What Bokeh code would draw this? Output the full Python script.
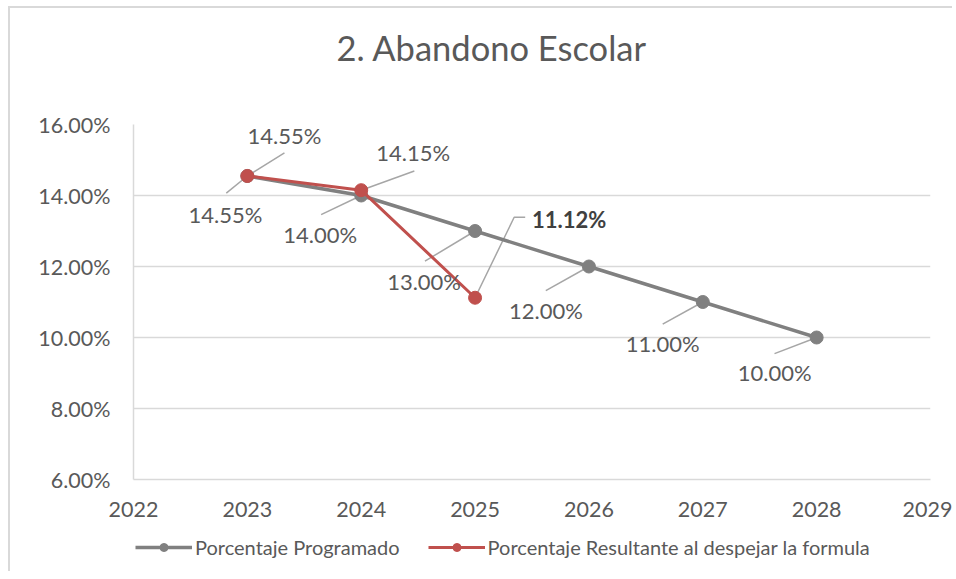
from bokeh.plotting import figure
from bokeh.layouts import column
from bokeh.models import (ColumnDataSource, FixedTicker, PrintfTickFormatter,
                          Legend, LegendItem, Title)
from bokeh.core.properties import value
from bokeh.embed import file_html
from bokeh.resources import INLINE

# ---------------- data ----------------
title_text = "2. Abandono Escolar"
years_prog = [2023, 2024, 2025, 2026, 2027, 2028]
pct_prog = [14.55, 14.00, 13.00, 12.00, 11.00, 10.00]
years_res = [2023, 2024, 2025]
pct_res = [14.55, 14.15, 11.12]
name_prog = "Porcentaje Programado"
name_res = "Porcentaje Resultante al despejar la formula"
x_ticks = [2022, 2023, 2024, 2025, 2026, 2027, 2028, 2029]
y_ticks = [6, 8, 10, 12, 14, 16]

# ---------------- style ----------------
FONT = "Lato"
TXT = "#595959"
GRAY = "#808080"
RED = "#c0504d"
GRID = "#d9d9d9"
LEAD = "#a6a6a6"
FW, FH = 795, 353
X0, X1, Y0, Y1 = 2022, 2029, 6, 16
PX_X = FW / (X1 - X0)   # px per year
PX_Y = FH / (Y1 - Y0)   # px per percent point

# label offsets in screen pixels (dx right, dy down) from each point
prog_lab_off = [(-22, 39), (-41, 39), (-51, 50), (-43, 44), (-40, 41), (-42, 35)]
prog_lead_off = [[(-21, 17)], [(-40, 19)], [(-50, 30)], [(-43, 24)], [(-40, 22)], [(-42, 16)]]
res_lab_off = [(37, -40), (52, -38), (94, -78)]
res_lead_off = [[(37, -23)], [(53, -19)], [(39, -80), (50, -80)]]

p = figure(frame_width=FW, frame_height=FH, x_range=(X0, X1), y_range=(Y0, Y1),
           output_backend="svg", toolbar_location=None,
           min_border_left=123, min_border_top=116, min_border_right=24,
           min_border_bottom=50)
p.styles = {"border-top": "2px solid #d9d9d9", "border-left": "2px solid #d9d9d9",
            "margin-left": "8px", "margin-top": "6px"}
p.outline_line_color = None
p.background_fill_color = "white"
p.border_fill_color = "white"

# spacer between the title and the plot frame
p.add_layout(Title(text=" ", text_font_size="1px", standoff=54), "above")

p.title.text = title_text
p.title.align = "left"
p.title.offset = 203
p.title.standoff = 0
p.title.vertical_align = "bottom"
p.title.text_font = FONT
p.title.text_font_size = "34.5px"
p.title.text_font_style = "normal"
p.title.text_color = TXT

p.xaxis.ticker = FixedTicker(ticks=x_ticks)
p.yaxis.ticker = FixedTicker(ticks=y_ticks)
p.yaxis.formatter = PrintfTickFormatter(format="%.2f%%")
for ax in (p.xaxis, p.yaxis):
    ax.major_tick_line_color = None
    ax.minor_tick_line_color = None
    ax.major_tick_out = 0
    ax.minor_tick_out = 0
    ax.axis_line_color = GRID
    ax.axis_line_width = 1.5
    ax.major_label_text_font = FONT
    ax.major_label_text_font_size = "21.5px"
    ax.major_label_text_color = TXT
p.yaxis.major_label_standoff = 23
p.xaxis.major_label_standoff = 22
p.xgrid.grid_line_color = None
p.ygrid.grid_line_color = GRID
p.ygrid.grid_line_width = 1.5


def leader(xs, ys, offs):
    lx, ly = [], []
    for x, y, o in zip(xs, ys, offs):
        lx.append([x] + [x + dx / PX_X for dx, dy in o])
        ly.append([y] + [y - dy / PX_Y for dx, dy in o])
    return lx, ly


# leader lines
lx, ly = leader(years_prog, pct_prog, prog_lead_off)
p.multi_line(lx, ly, line_color=LEAD, line_width=1.5)
lx, ly = leader(years_res, pct_res, res_lead_off)
p.multi_line(lx, ly, line_color=LEAD, line_width=1.5)

# series
p.line(years_prog, pct_prog, line_color=GRAY, line_width=3.5)
p.scatter(years_prog, pct_prog, size=13, fill_color=GRAY, line_color=GRAY)
p.line(years_res, pct_res, line_color=RED, line_width=3)
p.scatter(years_res, pct_res, size=13, fill_color=RED, line_color=RED)

# data labels
lab_prog = ColumnDataSource(dict(
    x=years_prog, y=pct_prog, t=["%.2f%%" % v for v in pct_prog],
    xo=[o[0] for o in prog_lab_off], yo=[o[1] for o in prog_lab_off],
    fs=["normal"] * len(pct_prog), c=[TXT] * len(pct_prog)))
lab_res = ColumnDataSource(dict(
    x=years_res, y=pct_res, t=["%.2f%%" % v for v in pct_res],
    xo=[o[0] for o in res_lab_off], yo=[o[1] for o in res_lab_off],
    fs=["normal", "normal", "bold"], c=[TXT, TXT, "#404040"]))
for src in (lab_prog, lab_res):
    p.text(x="x", y="y", text="t", x_offset="xo", y_offset="yo", source=src,
           text_align="center", text_baseline="middle", text_font=value(FONT),
           text_font_size="22px", text_color="c", text_font_style="fs")

# ---------------- legend strip below the chart ----------------
# The strip's ranges hide its copies of the series; they exist only to feed the legend.
pl = figure(width=944, height=44, x_range=(0, 1), y_range=(0, 1),
            output_backend="svg", toolbar_location=None,
            min_border=0)
pl.styles = {"border-left": "2px solid #d9d9d9", "margin-left": "8px"}
pl.axis.visible = False
pl.grid.visible = False
pl.outline_line_color = None
pl.background_fill_color = "white"
pl.border_fill_color = "white"
gl1 = pl.line(years_prog, pct_prog, line_color=GRAY, line_width=3.5)
gs1 = pl.scatter(years_prog, pct_prog, size=13, fill_color=GRAY, line_color=GRAY)
gl2 = pl.line(years_res, pct_res, line_color=RED, line_width=3)
gs2 = pl.scatter(years_res, pct_res, size=13, fill_color=RED, line_color=RED)

legend = Legend(items=[LegendItem(label=name_prog, renderers=[gl1, gs1]),
                       LegendItem(label=name_res, renderers=[gl2, gs2])],
                orientation="horizontal", location=(2, 12), nrows=1)
legend.label_text_font = FONT
legend.label_text_font_size = "20px"
legend.label_text_color = TXT
legend.glyph_width = 57
legend.glyph_height = 20
legend.label_standoff = 3
legend.spacing = 28
legend.padding = 0
legend.margin = 0
legend.border_line_color = None
legend.background_fill_alpha = 0
pl.add_layout(legend, "center")

page = column(p, pl, spacing=0)
open("out.html", "w").write(file_html(page, INLINE))
